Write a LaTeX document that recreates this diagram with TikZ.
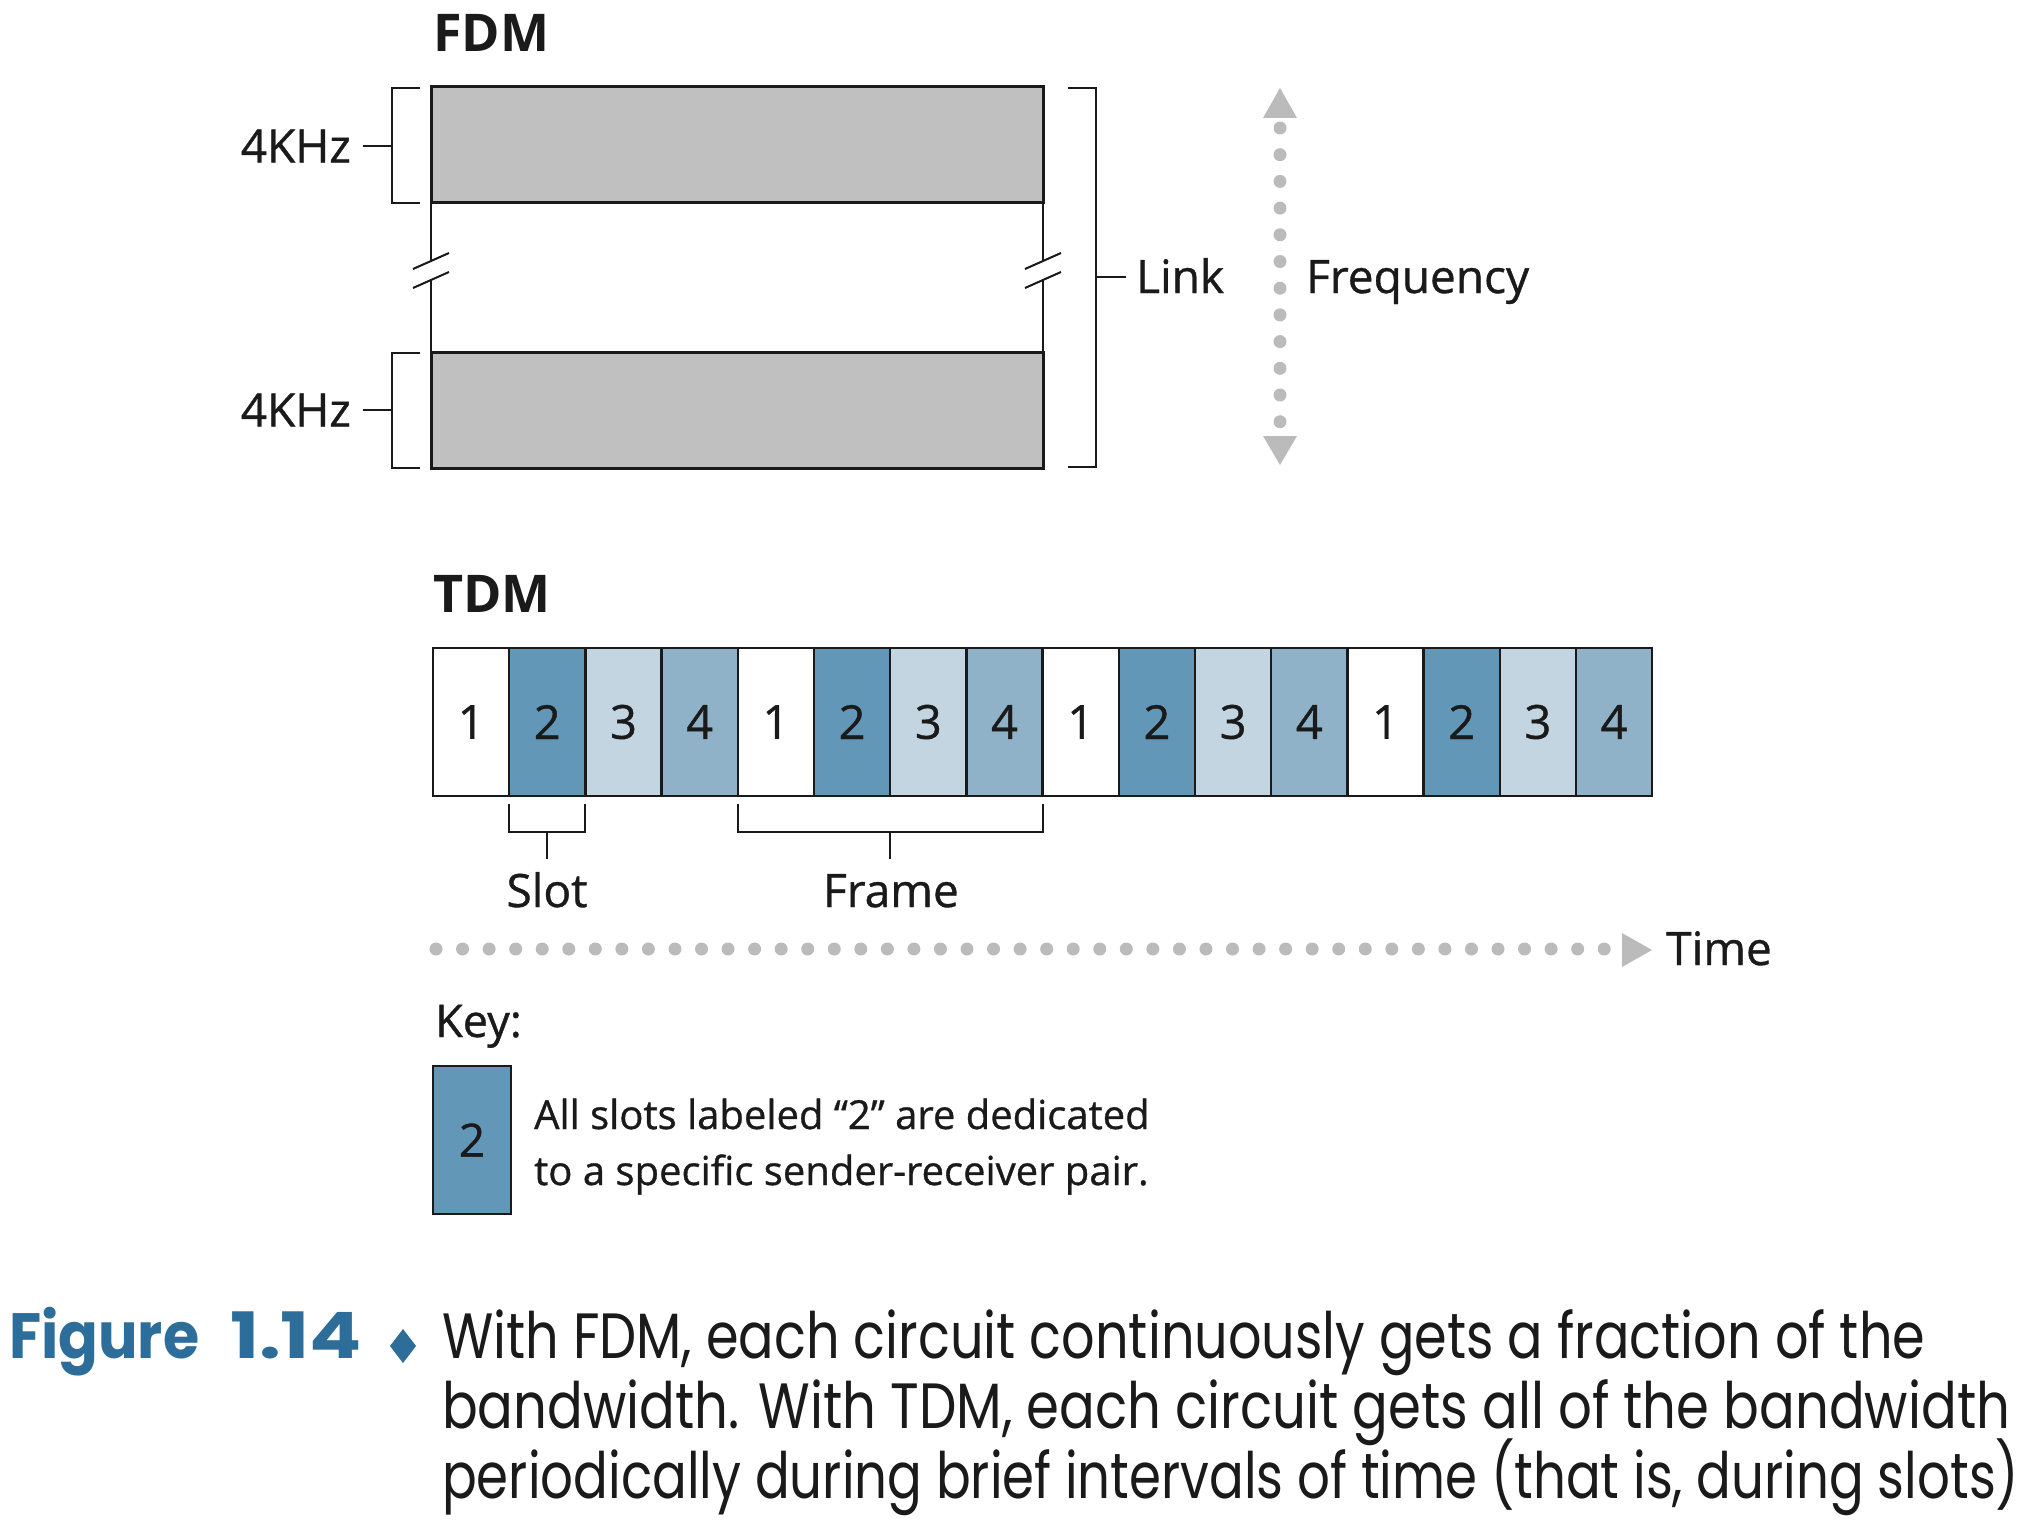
\documentclass[tikz,border=0pt]{standalone}
\usepackage{fontspec}
\usepackage{graphicx}
\setmainfont{Open Sans}
\newfontfamily\lblfont{Open Sans}[FakeBold=0.8]
\newfontfamily\capfont{Poppins}
\usetikzlibrary{calc}
\definecolor{fdmgray}{HTML}{C0C0C0}
\definecolor{slotc1}{HTML}{FFFFFF}
\definecolor{slotc2}{HTML}{6297B8}
\definecolor{slotc3}{HTML}{C3D5E1}
\definecolor{slotc4}{HTML}{90B2C8}
\definecolor{dotgray}{HTML}{BBBBBB}
\definecolor{capblue}{HTML}{2D6D9A}
\definecolor{ink}{HTML}{1A1A1A}
\begin{document}
\begin{tikzpicture}[x=1pt,y=-1pt,
  lbl/.style={font=\lblfont\fontsize{46}{50}\selectfont, inner sep=0pt, text=ink},
  ttl/.style={font=\bfseries\fontsize{52}{56}\selectfont, inner sep=0pt, text=ink},
  band/.style={draw=ink, line width=3pt, fill=fdmgray, minimum width=612pt, minimum height=116pt, anchor=north west, inner sep=0pt, outer sep=0pt},
  slotbox/.style={draw=ink, line width=2.5pt, minimum width=76.2pt, minimum height=148pt, inner sep=0pt, outer sep=0pt, text=ink, font=\lblfont\fontsize{47}{50}\selectfont},
  brk/.style={draw=ink, line width=2pt},
  dotline/.style={draw=dotgray, line width=13pt, line cap=round, dash pattern=on 0pt off 26.7pt},
  captxt/.style={inner sep=0pt, anchor=base west, text=ink}
]
\useasboundingbox[fill=white] (0,0) rectangle (2036,1530);

% ---------- FDM ----------
\node[ttl, anchor=base west] (fdm) at (433,52) {FDM};
\node[band] (b1) at (431,87) {};
\node[band] (b2) at (431,352) {};

\coordinate (lbA) at (431,261);
\coordinate (lbB) at (431,280);
\coordinate (rbA) at (1043,261);
\coordinate (rbB) at (1043,280);
\draw[brk] (b1.south west) -- (lbA);
\draw[brk] (lbB) -- (b2.north west);
\draw[brk] (b1.south east) -- (rbA);
\draw[brk] (rbB) -- (b2.north east);
\foreach \c in {lbA,lbB,rbA,rbB}{
  \draw[brk] ($(\c)+(-18,8)$) -- ($(\c)+(18,-8)$);
}

% left brackets
\draw[brk] (420,88) -- (392,88) -- (392,203) -- (420,203);
\draw[brk] (420,353) -- (392,353) -- (392,468) -- (420,468);
\node[lbl, anchor=east] (k1) at (351,146) {4KHz};
\node[lbl, anchor=east] (k2) at (351,410) {4KHz};
\draw[brk] ($(k1.east)+(12,0)$) -- (392,146);
\draw[brk] ($(k2.east)+(12,0)$) -- (392,410);

% right bracket
\draw[brk] (1068,88) -- (1096,88) -- (1096,467) -- (1068,467);
\node[lbl, anchor=base west] (link) at (1136,293) {Link};
\draw[brk] (1096,277) -- ($(link.base west)+(-10,-16)$);

% frequency arrow
\coordinate (fT) at (1280,88);
\coordinate (fB) at (1280,465);
\fill[dotgray] (fT) -- ++(17,30) -- ++(-34,0) -- cycle;
\fill[dotgray] (fB) -- ++(17,-29) -- ++(-34,0) -- cycle;
\draw[dotline] (1280,128) -- (1280,423);
\node[lbl, anchor=base west] (freq) at (1306,293) {Frequency};

% ---------- TDM ----------
\node[ttl, anchor=base west] (tdm) at (433,612) {TDM};
\foreach \i in {1,...,16}{
  \pgfmathtruncatemacro\k{mod(\i-1,4)+1}
  \node[slotbox, fill=slotc\k] (s\i) at ({433+(\i-0.5)*76.2},722) {\k};
}

% slot bracket
\draw[brk] ($(s2.south west)+(0,8)$) -- ++(0,28) -- ($(s2.south east)+(0,36)$) -- ++(0,-28);
\draw[brk] ($(s2.south)+(0,36)$) -- ++(0,27);
\node[lbl, anchor=base] (slotl) at (547,907) {Slot};

% frame bracket
\draw[brk] ($(s5.south west)+(0,8)$) -- ++(0,28) -- ($(s8.south east)+(0,36)$) -- ++(0,-28);
\draw[brk] ($(s5.south west)!0.5!(s8.south east)+(0,36)$) -- ++(0,27);
\node[lbl, anchor=base] (framel) at (891,907) {Frame};

% time arrow
\coordinate (tA) at (1652,950);
\draw[dotline, dash pattern=on 0pt off 26.55pt] (436,949) -- (1606,949);
\fill[dotgray] (tA) -- ++(-30,-17) -- ++(0,34) -- cycle;
\node[lbl, anchor=base west] (time) at (1666,965) {Time};

% ---------- Key ----------
\node[lbl, font=\lblfont\fontsize{45}{50}\selectfont, anchor=base west] (key) at (435,1037) {Key:};
\node[slotbox, fill=slotc2, minimum width=78pt, font=\lblfont\fontsize{46}{50}\selectfont] (kb) at (472,1140) {2};
\node[lbl, font=\lblfont\fontsize{40}{46}\selectfont, anchor=base west] (kt1) at (534,1129) {All slots labeled “2” are dedicated};
\node[lbl, font=\lblfont\fontsize{40}{46}\selectfont, anchor=base west] (kt2) at (534,1185) {to a specific sender-receiver pair.};

% ---------- Caption ----------
\node[captxt, text=capblue] (fig) at (9,1358) {\resizebox{190pt}{\height}{\capfont\bfseries\fontsize{64}{70}\selectfont Figure}};
\node[captxt, text=capblue] (fignum) at (230,1358) {\resizebox{132pt}{\height}{\capfont\bfseries\fontsize{64}{70}\selectfont 1.14}};
\fill[capblue] (403,1329) -- (416,1346) -- (403,1363) -- (390,1346) -- cycle;
\node[captxt] (c1) at (442,1358) {\resizebox{1483pt}{\height}{\capfont\fontsize{64}{70}\selectfont With FDM, each circuit continuously gets a fraction of the}};
\node[captxt] (c2) at (442,1428) {\resizebox{1568pt}{\height}{\capfont\fontsize{64}{70}\selectfont bandwidth. With TDM, each circuit gets all of the bandwidth}};
\node[captxt] (c3) at (442,1498) {\resizebox{1577pt}{\height}{\capfont\fontsize{64}{70}\selectfont periodically during brief intervals of time (that is, during slots)}};
\end{tikzpicture}
\end{document}
